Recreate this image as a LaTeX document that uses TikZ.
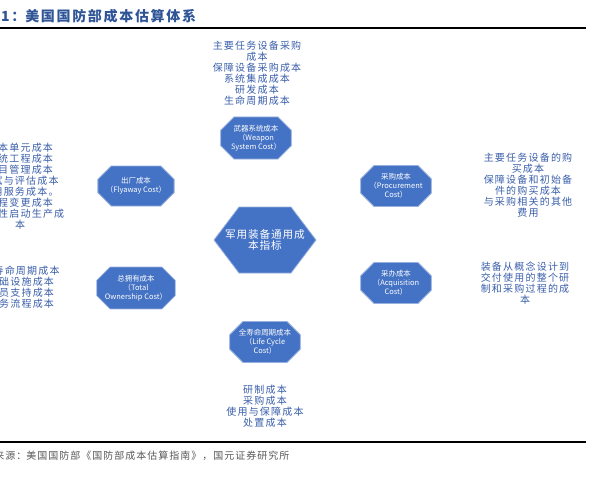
\documentclass[tikz,border=0pt]{standalone}
\usepackage{fontspec}
\setmainfont{Noto Sans CJK SC}
\newfontfamily\headfont[LetterSpace=12]{Noto Sans CJK SC}
\newfontfamily\notefont[LetterSpace=12]{Noto Sans CJK SC}
\newfontfamily\srcfont[LetterSpace=10]{Noto Sans CJK SC}
\newfontfamily\boxfont[LetterSpace=8]{Noto Sans CJK SC}
\usetikzlibrary{shapes.misc}
\definecolor{mBox}{HTML}{4472C4}
\definecolor{mInk}{HTML}{3A5FAA}
\definecolor{mTitle}{HTML}{2F5597}
\definecolor{mGrey}{HTML}{595959}
\tikzset{
  costbox/.style={chamfered rectangle, chamfered rectangle xsep=5pt,
    chamfered rectangle ysep=5pt, fill=mBox, draw=mBox!55!white, line width=0.6pt,
    minimum width=53pt, minimum height=30pt, inner sep=1pt, text=white, align=center,
    font=\fontsize{5.6}{6.75}\selectfont},
  costnote/.style={text=mInk, align=center, inner sep=0pt,
    font=\notefont\fontsize{7.5}{8.3}\selectfont}
}

\begin{document}
\begin{tikzpicture}[x=0.75pt, y=-0.75pt]
  \useasboundingbox (0,0) rectangle (592,486);
  \fill[white] (0,0) rectangle (592,486);
  \clip (0,0) rectangle (592,486);
  % heading and source line
  \node (title) [anchor=base west, text=mTitle, inner sep=0pt,
    font=\headfont\bfseries\fontsize{10.5}{11}\selectfont] at (25,21)
    {\llap{图表1：}美国国防部成本估算体系};
  \draw[line width=1.5pt] (0,28) -- (586,28);
  \draw[line width=1.5pt] (0,442) -- (586,442);
  \node (source) [anchor=base west, text=mGrey, inner sep=0pt,
    font=\srcfont\fontsize{7.5}{8}\selectfont] at (26,459)
    {\llap{资料来源：}美国国防部《国防部成本估算指南》，国元证券研究所};
  % hub
  \coordinate (hubc) at (265,240);
  \filldraw[fill=mBox, draw=mBox!55!white, line width=0.6pt] (hubc) ++(-51,0) -- ++(25,-33)
    -- ++(52,0) -- ++(25,33) -- ++(-25,33) -- ++(-52,0) -- cycle;
  \node (hub) [text=white, align=center, inner sep=0pt,
    font=\boxfont\fontsize{8}{8}\selectfont] at (hubc) {军用装备通用成\\本指标};
  % the six cost views
  \node (weapon) [costbox] at (256,138) {武器系统成本\\（Weapon\\System Cost）};
  \node (flyaway) [costbox] at (136,186) {出厂成本\\（Flyaway Cost）};
  \node (procure) [costbox] at (396,186) {采购成本\\（Procurement\\Cost）};
  \node (owner) [costbox] at (136,288) {总拥有成本\\（Total\\Ownership Cost）};
  \node (acquire) [costbox] at (396,283) {采办成本\\（Acquisition\\Cost）};
  \node (lifecycle) [costbox] at (265,342) {全寿命周期成本\\（Life Cycle\\Cost）};
  % what each view holds
  \node (weaponnote) [costnote] at (257,73.5)
    {主要任务设备采购\\成本\\保障设备采购成本\\系统集成成本\\研发成本\\生命周期成本};
  \node (flyawaynote) [costnote] at (20,186)
    {基本单元成本\\系统工程成本\\项目管理成本\\测试与评估成本\\通用服务成本。\\工程变更成本\\一次性启动生产成\\本};
  \node (procurenote) [costnote] at (528,185)
    {主要任务设备的购\\买成本\\保障设备和初始备\\件的购买成本\\与采购相关的其他\\费用};
  \node (ownernote) [costnote] at (21,287.5)
    {全寿命周期成本\\基础设施成本\\人员支持成本\\业务流程成本};
  \node (acquirenote) [costnote] at (525,283)
    {装备从概念设计到\\交付使用的整个研\\制和采购过程的成\\本};
  \node (lifecyclenote) [costnote] at (265,406)
    {研制成本\\采购成本\\使用与保障成本\\处置成本};
\end{tikzpicture}
\end{document}
